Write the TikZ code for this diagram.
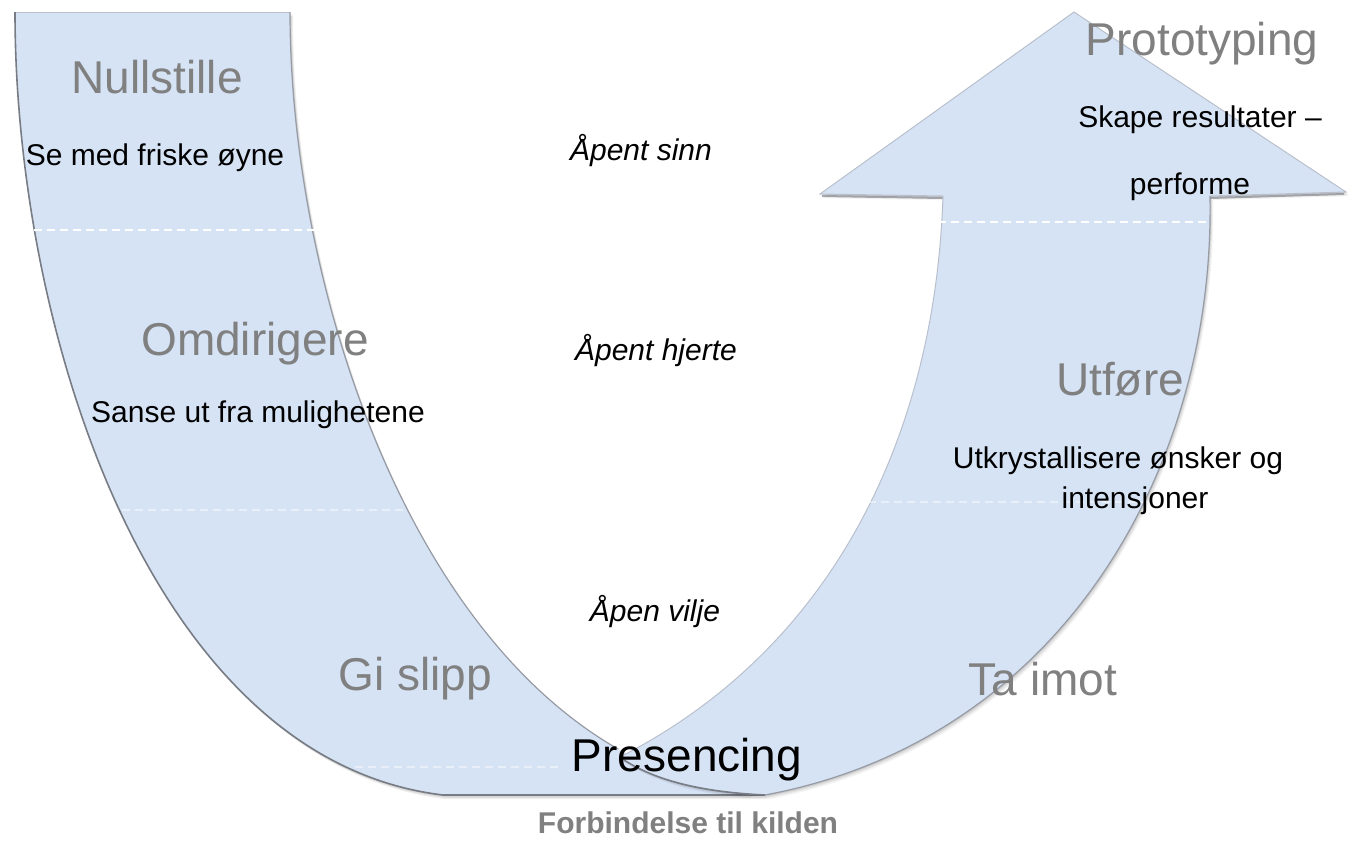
\documentclass[tikz,border=0pt]{standalone}
\usepackage{fontspec}
\setmainfont{Liberation Sans}
\definecolor{bandfill}{RGB}{214,227,245}
\definecolor{edgedark}{RGB}{120,124,132}
\definecolor{edgemid}{RGB}{150,155,165}
\definecolor{edgelight}{RGB}{185,192,204}
\definecolor{headgray}{RGB}{128,128,128}
\tikzset{
  heading/.style={text=headgray, font=\fontsize{23}{27}\selectfont, anchor=base, inner sep=0pt},
  body/.style={text=black, font=\fontsize{15}{18}\selectfont, anchor=base, inner sep=0pt},
  stance/.style={text=black, font=\fontsize{15}{18}\selectfont\itshape, anchor=base, inner sep=0pt},
  source/.style={text=headgray, font=\fontsize{15}{18}\selectfont\bfseries, anchor=base, inner sep=0pt},
  darkedge/.style={draw=edgedark, line width=0.8pt},
  midedge/.style={draw=edgemid, line width=0.6pt},
  lightedge/.style={draw=edgelight, line width=0.5pt},
  divider/.style={draw=white, dash pattern=on 4pt off 2.5pt, line width=0.8pt},
  faintdivider/.style={divider, opacity=0.45},
}
% outline of the descending (left) band
\newcommand\leftbandpath{(15,12) -- (290,12)
  .. controls (290,330) and (450,770) .. (765,795)
  -- (443,795)
  .. controls (150,760) and (15,330) .. (15,12) -- cycle}
% outline of the rising (right) band with its arrow head
\newcommand\rightbandpath{(1074,12) -- (1346,192) -- (1210,196)
  .. controls (1215,470) and (1060,740) .. (765,795)
  .. controls (700,792) and (655,780) .. (620,757)
  .. controls (830,650) and (935,440) .. (943,196)
  -- (820,194) -- cycle}
\begin{document}
\begin{tikzpicture}[x=0.5pt,y=-0.5pt]
\useasboundingbox[fill=white] (0,0) rectangle (1351,842);

% left band: soft shadow, fill, edges
\foreach \s/\o in {3/0.06,2/0.08,1/0.10}{
  \begin{scope}[xshift=\s*0.5pt,yshift=-\s*0.7pt]
    \fill[black,opacity=\o] \leftbandpath;
  \end{scope}
}
\fill[bandfill] \leftbandpath;
\draw[lightedge] (15,12) -- (290,12);
\draw[darkedge] (15,12) .. controls (15,330) and (150,760) .. (443,795) -- (765,795);
\begin{scope}
  \clip (0,0) rectangle (1351,748);
  \draw[midedge] (290,12) .. controls (290,330) and (450,770) .. (765,795);
\end{scope}

% section dividers on the left band
\draw[divider] (34,230) -- (316,230);
\draw[faintdivider] (122,510) -- (405,510);
\draw[faintdivider] (355,767) -- (560,767);

% right band: soft shadow, fill, edges
\foreach \s/\o in {3/0.05,2/0.07,1/0.09}{
  \begin{scope}[xshift=\s*0.5pt,yshift=-\s*0.7pt]
    \fill[black,opacity=\o] \rightbandpath;
  \end{scope}
}
\fill[bandfill] \rightbandpath;
\draw[lightedge] (943,196) -- (820,194) -- (1074,12) -- (1346,192) -- (1210,196);
\draw[edgedark,line width=1pt,opacity=0.6] (822,196) -- (943,198) (1210,198) -- (1344,194);
\draw[midedge] (1210,196) .. controls (1215,470) and (1060,740) .. (765,795);
\draw[lightedge] (620,757) .. controls (830,650) and (935,440) .. (943,196);
\draw[darkedge] (765,795) .. controls (700,792) and (655,780) .. (624,760);

% section dividers on the right band
\draw[divider] (938,222) -- (1208,222);
\draw[faintdivider] (855,502) -- (1150,502);

% left band texts
\node[heading] (nullstille) at (157,93) {Nullstille};
\node[body] (friske) at (155,165) {Se med friske øyne};
\node[heading] (omdirigere) at (255,355) {Omdirigere};
\node[body] (sanse) at (258,422) {Sanse ut fra mulighetene};
\node[heading] (gislipp) at (415,690) {Gi slipp};

% the three openings in the middle
\node[stance] (sinn) at (641,160) {Åpent sinn};
\node[stance] (hjerte) at (656,360) {Åpent hjerte};
\node[stance] (vilje) at (655,621) {Åpen vilje};

% right band texts
\node[heading] (proto) at (1202,55) {Prototyping};
\node[body] (skape) at (1200,127) {Skape resultater –};
\node[body] (performe) at (1190,194) {performe};
\node[heading] (utfore) at (1120,395) {Utføre};
\node[body] (utkryst) at (1118,468) {Utkrystallisere ønsker og};
\node[body] (intensjoner) at (1135,508) {intensjoner};
\node[heading] (taimot) at (1043,695) {Ta imot};

% bottom of the U
\node[heading,text=black] (presencing) at (687,771) {Presencing};
\node[source] (kilden) at (688,833) {Forbindelse til kilden};
\end{tikzpicture}
\end{document}
